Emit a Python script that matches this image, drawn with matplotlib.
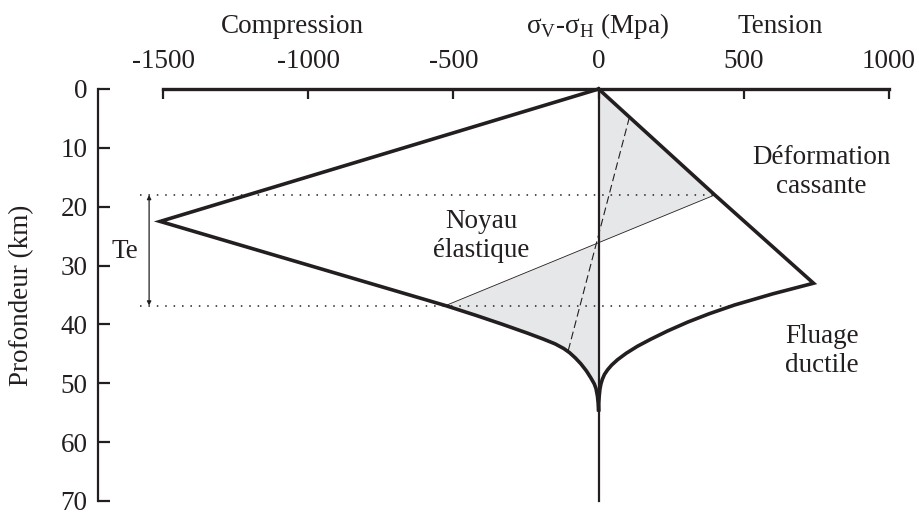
import numpy as np
import matplotlib
matplotlib.use('Agg')
import matplotlib.pyplot as plt

plt.rcParams['font.family'] = ['Liberation Serif', 'DejaVu Serif']
plt.rcParams['mathtext.fontset'] = 'custom'
plt.rcParams['mathtext.rm'] = 'Liberation Serif'

# ---- data ----
x_ticks = [-1500, -1000, -500, 0, 500, 1000]
y_ticks = [0, 10, 20, 30, 40, 50, 60, 70]

# compression envelope (brittle line then ductile creep)
comp_x = [0, -1510, -527, -420, -336, -244, -190, -150, -120, -100, -80, -61, -42, -26.5, -15, -9, -4, -1.5, 0]
comp_y = [0, 22.5, 36.8, 38.5, 39.9, 41.5, 42.5, 43.3, 44.1, 44.8, 45.7, 46.7, 47.9, 49.1, 50.1, 50.9, 52.2, 53.4, 54.5]
# tension envelope
tens_x = [0, 400, 740, 600, 468, 380, 307, 238, 180, 134, 95, 65, 45, 31, 20, 13, 8, 4.5, 2, 0.5, 0]
tens_y = [0, 18, 33, 34.8, 36.7, 38.2, 39.6, 41.1, 42.5, 43.7, 44.9, 46.0, 46.9, 47.7, 48.5, 49.3, 50.1, 51.0, 52.2, 53.4, 54.5]

neutral_x = [400, -527]      # neutral fibre of the elastic core
neutral_y = [18, 36.8]
dashed_x = [106, -107]
dashed_y = [4.8, 44.9]
te_top, te_bot = 18, 36.8
dot_left = -1579
dot_low_right = 472
te_x = -1548

C = '#231f20'
SHADE = '#e6e7e8'
FS = 19.5

fig = plt.figure(figsize=(9.19, 5.12), dpi=100)
ax = fig.add_axes([98/919, 11/512, 791/919, 412/512])
ax.set_xlim(-1724, 1000)
ax.set_ylim(70, 0)

# shading
y0 = float(np.interp(0, neutral_x[::-1], neutral_y[::-1]))
ax.fill([tens_x[0], tens_x[1], 0], [tens_y[0], tens_y[1], y0], color=SHADE, lw=0, zorder=1)
ax.fill([0] + comp_x[2:], [y0] + comp_y[2:], color=SHADE, lw=0, zorder=1)

# thin lines
ax.plot(neutral_x, neutral_y, color=C, lw=0.6, zorder=2)
ax.plot(dashed_x, dashed_y, color=C, lw=0.8, ls=(0, (7, 3.5)), zorder=2)
ax.plot([dot_left, tens_x[1]], [te_top, te_top], color=C, lw=1.1, ls=(0, (1, 4.5)), zorder=2)
ax.plot([dot_left, dot_low_right], [te_bot, te_bot], color=C, lw=1.1, ls=(0, (1, 4.5)), zorder=2)

# vertical zero line
ax.plot([0, 0], [0, 70], color=C, lw=1.6, zorder=3, clip_on=False)
# envelopes
ax.plot(comp_x, comp_y, color=C, lw=2.6, zorder=4, solid_joinstyle='miter', clip_on=False)
ax.plot(tens_x, tens_y, color=C, lw=2.6, zorder=4, solid_joinstyle='miter', clip_on=False)

# Te arrow
ax.annotate('', xy=(te_x, te_bot), xytext=(te_x, te_top),
            arrowprops=dict(arrowstyle='<|-|>', color=C, lw=0.9, mutation_scale=6,
                            shrinkA=0, shrinkB=0), clip_on=False)
ax.text(-1631, 27.6, 'Te', ha='center', va='center', fontsize=FS, color=C)

ax.text(-405, 25.0, 'Noyau\nélastique', ha='center', va='center', fontsize=FS, color=C, linespacing=1.2)
ax.text(766, 14.1, 'Déformation\ncassante', ha='center', va='center', fontsize=FS, color=C, linespacing=1.2)
ax.text(769, 44.5, 'Fluage\nductile', ha='center', va='center', fontsize=FS, color=C, linespacing=1.2)

# axes styling
for s in ['bottom', 'right']:
    ax.spines[s].set_visible(False)
ax.spines['top'].set_bounds(x_ticks[0], x_ticks[-1])
ax.spines['top'].set_linewidth(2.4)
ax.spines['top'].set_color(C)
ax.spines['left'].set_bounds(y_ticks[0], y_ticks[-1])
ax.spines['left'].set_linewidth(1.6)
ax.spines['left'].set_color(C)

ax.xaxis.tick_top()
ax.set_xticks(x_ticks)
ax.set_xticklabels([str(v) for v in x_ticks])
ax.set_yticks(y_ticks)
ax.set_yticklabels([str(v) for v in y_ticks])
ax.tick_params(axis='x', direction='in', length=7.2, width=1.6, color=C, pad=10.5,
               labelsize=FS, labelcolor=C)
ax.tick_params(axis='y', direction='in', length=8.6, width=1.6, color=C, pad=7.5,
               labelsize=FS, labelcolor=C)

fig.text(292/919, 1 - 33/512, 'Compression', ha='center', va='baseline', fontsize=FS, color=C)
fig.text(598/919, 1 - 33/512, r'σ$_\mathregular{V}$-σ$_\mathregular{H}$ (Mpa)', ha='center',
         va='baseline', fontsize=FS, color=C)
fig.text(780/919, 1 - 33/512, 'Tension', ha='center', va='baseline', fontsize=FS, color=C)
fig.text(22/919, 1 - 295/512, 'Profondeur (km)', rotation=90, ha='center', va='center',
         fontsize=FS, color=C)

fig.savefig('out.png', dpi=100)
